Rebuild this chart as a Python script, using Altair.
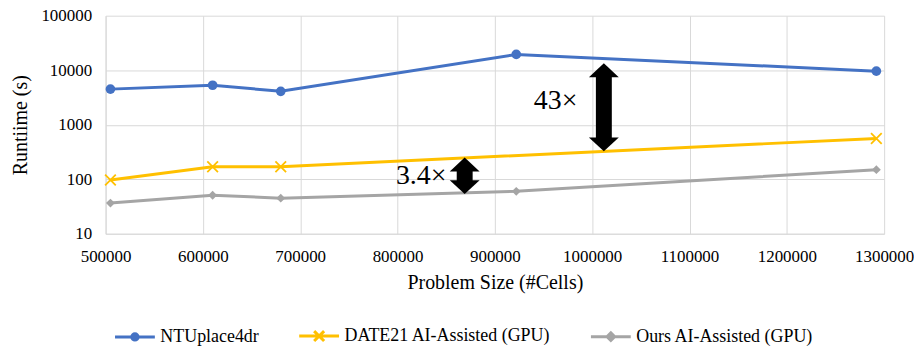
import altair as alt
import pandas as pd
import numpy as np

# ---------------- data ----------------
series_names = ["NTUplace4dr", "DATE21 AI-Assisted (GPU)", "Ours AI-Assisted (GPU)"]
series_colors = ["#4472C4", "#FFC000", "#A5A5A5"]

x_ntu = [505000, 610000, 680000, 922000, 1292000]
y_ntu = [4500, 5300, 4100, 19500, 9600]

x_date = [505000, 610000, 680000, 1292000]
y_date = [97, 170, 170, 560]

x_ours = [505000, 610000, 680000, 922000, 1292000]
y_ours = [36.5, 51, 45, 60, 150]

x_ticks = [500000, 600000, 700000, 800000, 900000, 1000000, 1100000, 1200000, 1300000]
y_ticks = [10, 100, 1000, 10000, 100000]

arrow_x = [1012000, 869000]
arrow_top = [13400, 251]
arrow_bottom = [325, 53.4]

note_text = ["43×", "3.4×"]
note_x = [962400, 824300]
note_y = [2760, 113]

FONT = "Liberation Serif"

df_ntu = pd.DataFrame({"x": x_ntu, "y": y_ntu, "series": series_names[0]})
df_date = pd.DataFrame({"x": x_date, "y": y_date, "series": series_names[1]})
df_ours = pd.DataFrame({"x": x_ours, "y": y_ours, "series": series_names[2]})
df_all = pd.concat([df_ntu, df_date, df_ours], ignore_index=True)

x_scale = alt.Scale(domain=[500000, 1300000], nice=False, zero=False)
y_scale = alt.Scale(type="log", domain=[10, 100000], nice=False)

axis_common = dict(labelFont=FONT, labelFontSize=17, labelColor="#000000", labelFlush=False,
                   titleFont=FONT, titleFontSize=20, titleFontWeight="normal",
                   titleColor="#000000", ticks=False, grid=True,
                   gridColor="#d9d9d9", domainColor="#d9d9d9", labelOverlap=False)

x_enc = alt.X("x:Q", scale=x_scale,
              axis=alt.Axis(values=x_ticks, format="d", title="Problem Size (#Cells)",
                            labelPadding=15, titlePadding=8, **axis_common))
y_enc = alt.Y("y:Q", scale=y_scale,
              axis=alt.Axis(values=y_ticks, format="d", title="Runtiime (s)",
                            labelPadding=14, titlePadding=10, **axis_common))

# legend symbols: line segment plus marker
p_circle = "M-1,0H1M0.16,0A0.16,0.16,0,1,1,-0.16,0A0.16,0.16,0,1,1,0.16,0Z"
p_cross = "M-1,0H1M-0.25,-0.25L0.25,0.25M-0.25,0.25L0.25,-0.25"
p_diam = "M-1,0H1M0,-0.19L0.19,0L0,0.19L-0.19,0Z"
shape_expr = (f"datum.value === '{series_names[0]}' ? '{p_circle}' : "
              f"datum.value === '{series_names[1]}' ? '{p_cross}' : '{p_diam}'")
color_expr = "scale('color', datum.value)"

legend = alt.Legend(
    title=None, orient="none", direction="horizontal",
    legendX=8, legendY=300,
    symbolSize=1600, symbolStrokeWidth=3,
    symbolType={"expr": shape_expr},
    symbolFillColor={"expr": color_expr},
    symbolStrokeColor={"expr": color_expr},
    symbolOpacity=1,
    labelFont=FONT, labelFontSize=18, labelColor="#000000", labelLimit=400,
    labelOffset=4, columnPadding=34,
)

lines = alt.Chart(df_all).mark_line(strokeWidth=3).encode(
    x=x_enc, y=y_enc,
    color=alt.Color("series:N", scale=alt.Scale(domain=series_names, range=series_colors),
                    legend=legend),
)

pts_ntu = alt.Chart(df_ntu).mark_point(shape="circle", filled=True, size=95, opacity=1,
                                       color=series_colors[0]).encode(x="x:Q", y="y:Q")
pts_date = alt.Chart(df_date).mark_point(shape="M-1,-1L1,1M-1,1L1,-1", filled=False, size=115,
                                         strokeWidth=1.8, opacity=1,
                                         color=series_colors[1]).encode(x="x:Q", y="y:Q")
pts_ours = alt.Chart(df_ours).mark_point(shape="diamond", filled=True, size=80, opacity=1,
                                         color=series_colors[2]).encode(x="x:Q", y="y:Q")

# arrows
HEAD_H = 14
HEAD_W = 30
SHAFT_W = 16
k = HEAD_W / (2 * HEAD_H)
head_size = (2 * HEAD_H) ** 2
df_arrow = pd.DataFrame({"x": arrow_x, "top": arrow_top, "bottom": arrow_bottom})

shaft = alt.Chart(df_arrow).mark_rule(color="black", strokeWidth=SHAFT_W, strokeCap="butt",
                                      yOffset=HEAD_H - 1, y2Offset=-(HEAD_H - 1)).encode(
    x="x:Q", y="top:Q", y2="bottom:Q")
head_up = alt.Chart(df_arrow).mark_point(shape=f"M0,0L{k},1L{-k},1Z", filled=True, opacity=1,
                                         size=head_size, color="black").encode(
    x="x:Q", y="top:Q")
head_down = alt.Chart(df_arrow).mark_point(shape=f"M0,0L{k},-1L{-k},-1Z", filled=True, opacity=1,
                                           size=head_size, color="black").encode(
    x="x:Q", y="bottom:Q")

df_note = pd.DataFrame({"x": note_x, "y": note_y, "t": note_text})
notes = alt.Chart(df_note).mark_text(font=FONT, fontSize=28, color="black",
                                     align="center", baseline="middle").encode(
    x="x:Q", y="y:Q", text="t:N")

chart = alt.layer(lines, pts_ntu, pts_date, pts_ours, shaft, head_up, head_down, notes).properties(
    width=782, height=219,
    padding={"left": 98, "top": 7, "right": 30, "bottom": 112},
    autosize=alt.AutoSizeParams(type="none"),
).configure(font=FONT).configure_view(strokeWidth=0).configure_axis(
    gridWidth=1, domainWidth=1, labelFont=FONT, titleFont=FONT,
).configure_legend(labelFont=FONT)

chart.save("out.html", embed_options={"renderer": "svg", "actions": False})
